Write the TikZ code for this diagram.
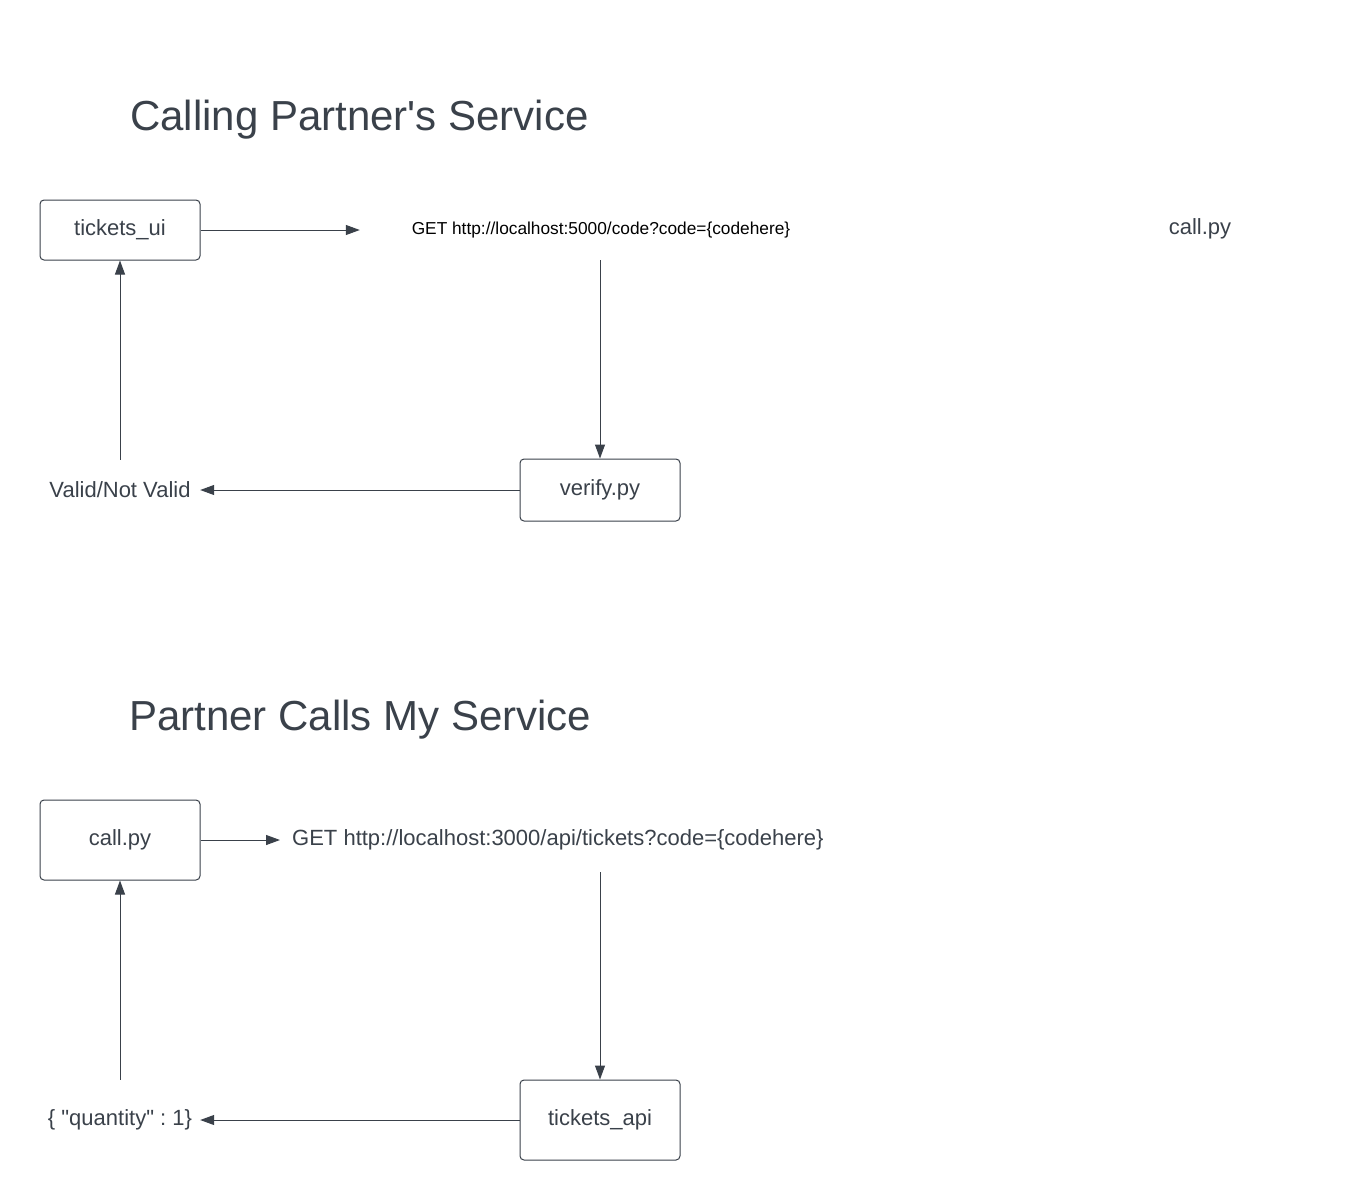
\documentclass[tikz,border=0pt]{standalone}
\usepackage{fontspec}
\setmainfont{Liberation Sans}[Ligatures=TeXOff]
\usetikzlibrary{arrows.meta}
\definecolor{ink}{HTML}{3A414A}
\frenchspacing
\begin{document}
\begin{tikzpicture}[x=1pt,y=-1pt,
  every node/.style={text=ink, font=\fontsize{22}{26}\selectfont},
  box/.style={draw=ink, line width=1pt, rounded corners=4pt, minimum width=160pt, inner sep=0pt},
  title/.style={font=\fontsize{42}{48}\selectfont, inner sep=0pt},
  lbl/.style={inner sep=0pt},
  conn/.style={draw=ink, line width=1pt, -{Triangle[length=14pt,width=10pt]}}
]
\useasboundingbox[fill=white] (0,0) rectangle (1360,1200);

% Top section
\node[title, anchor=west] (t1) at (130,120) {Calling Partner's Service};
\node[box, minimum height=60pt] (ui) at (120,230) {tickets\_ui};
\node[lbl, minimum width=482pt, minimum height=60pt, text=black, font=\fontsize{17.3}{20}\selectfont] (get1) at (601,230) {GET http://localhost:5000/code?code=\{codehere\}};
\node[lbl] (callA) at (1200,229) {call.py};
\node[box, minimum height=62pt] (ver) at (600,490) {verify.py};
\node[lbl, minimum width=160pt, minimum height=60pt] (valid) at (120,490) {Valid/Not Valid};

\draw[conn] (ui.east) -- (get1.west);
\draw[conn] (ver.north |- get1.south) -- (ver.north);
\draw[conn] (ver.west) -- (valid.east);
\draw[conn] (valid.north) -- (ui.south);

% Bottom section
\node[title, anchor=west] (t2) at (129,720) {Partner Calls My Service};
\node[box, minimum height=80pt] (call) at (120,840) {call.py};
\node[lbl, anchor=west, inner xsep=12pt, minimum height=64pt] (get2) at (280,840) {GET http://localhost:3000/api/tickets?code=\{codehere\}};
\node[box, minimum height=80pt] (api) at (600,1120) {tickets\_api};
\node[lbl, minimum width=160pt, minimum height=80pt] (qty) at (120,1120) {\{ "quantity" : 1\}};

\draw[conn] (call.east) -- (get2.west);
\draw[conn] (api.north |- get2.south) -- (api.north);
\draw[conn] (api.west) -- (qty.east);
\draw[conn] (qty.north) -- (call.south);
\end{tikzpicture}
\end{document}
